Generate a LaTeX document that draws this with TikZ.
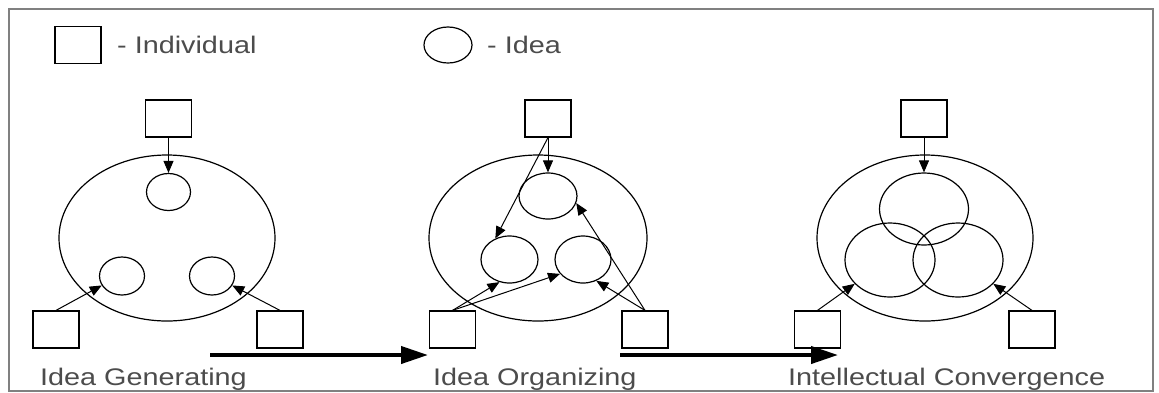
\documentclass[tikz,border=0pt]{standalone}
\usepackage{fontspec}
\setmainfont[FakeStretch=1.2]{Liberation Sans}
\usetikzlibrary{arrows.meta,shapes.geometric}

\begin{document}
\begin{tikzpicture}[x=1pt, y=-1pt, inner sep=0pt,
    person/.style={draw, line width=1.2pt, minimum width=46pt, minimum height=37pt},
    idea/.style={draw, ellipse, line width=1.2pt},
    group/.style={draw, ellipse, line width=1.2pt, minimum width=216pt, minimum height=166pt},
    link/.style={line width=1pt, -{Triangle[length=12pt,width=10pt]}},
    stage/.style={line width=4pt, -{Triangle[length=27pt,width=17pt]}},
    lbl/.style={anchor=base west, text=black!70, font=\fontsize{24}{28}\selectfont}]
    \useasboundingbox (0,0) rectangle (1159,392);
    \draw[black!50, line width=2pt] (9,9) rectangle (1153,391);

    % legend
    \node[person] (keyperson) at (78,45) {};
    \node[lbl] (keypersontext) at (117,53) {- Individual};
    \node[idea, minimum width=48pt, minimum height=36pt] (keyidea) at (448,45) {};
    \node[lbl] (keyideatext) at (487,53) {- Idea};

    % idea generating
    \node[group] (groupA) at (167,238) {};
    \node[person] (pA1) at (168.5,118.5) {};
    \node[person] (pA2) at (56,329.5) {};
    \node[person] (pA3) at (280,329.5) {};
    \node[idea, minimum width=44pt, minimum height=37pt] (iA1) at (168.5,192) {};
    \node[idea, minimum width=45pt, minimum height=38pt] (iA2) at (122,276) {};
    \node[idea, minimum width=45pt, minimum height=38pt] (iA3) at (212,276) {};
    \draw[link] (pA1.south) -- (iA1.north);
    \draw[link] (pA2.north) -- (iA2.205);
    \draw[link] (pA3.north) -- (iA3.335);
    \node[lbl] (stageA) at (40,385) {Idea Generating};

    % idea organizing
    \node[group, minimum width=218pt] (groupB) at (538,238) {};
    \node[person] (pB1) at (548,118.5) {};
    \node[person] (pB2) at (452.5,329.5) {};
    \node[person] (pB3) at (645,329.5) {};
    \node[idea, minimum width=58pt, minimum height=46pt] (iB1) at (548,196) {};
    \node[idea, minimum width=57pt, minimum height=47pt] (iB2) at (509.5,259.5) {};
    \node[idea, minimum width=56pt, minimum height=47pt] (iB3) at (583,259.5) {};
    \draw[link] (pB1.south) -- (iB1.north);
    \draw[link] (pB1.south) -- (iB2.124);
    \draw[link] (pB2.north) -- (iB2.246);
    \draw[link] (pB2.north) -- (iB3.212);
    \draw[link] (pB3.north) -- (iB3.302);
    \draw[link] (pB3.north) -- (iB1.346);
    \node[lbl] (stageB) at (433,385) {Idea Organizing};

    % intellectual convergence
    \node[group] (groupC) at (925,238) {};
    \node[person] (pC1) at (924,118.5) {};
    \node[person] (pC2) at (817.5,329.5) {};
    \node[person] (pC3) at (1032,329.5) {};
    \node[idea, minimum width=89pt, minimum height=72pt] (iC1) at (924,209) {};
    \node[idea, minimum width=90pt, minimum height=74pt] (iC2) at (890,260) {};
    \node[idea, minimum width=90pt, minimum height=74pt] (iC3) at (958,260) {};
    \draw[link] (pC1.south) -- (iC1.north);
    \draw[link] (pC2.north) -- (iC2.214);
    \draw[link] (pC3.north) -- (iC3.326);
    \node[lbl] (stageC) at (788,385) {Intellectual Convergence};

    % stage arrows
    \coordinate (sA) at (210,355);
    \coordinate (sB) at (428,355);
    \coordinate (sC) at (620,355);
    \coordinate (sD) at (838,355);
    \draw[stage] (sA) -- (sB);
    \draw[stage] (sC) -- (sD);
\end{tikzpicture}
\end{document}
